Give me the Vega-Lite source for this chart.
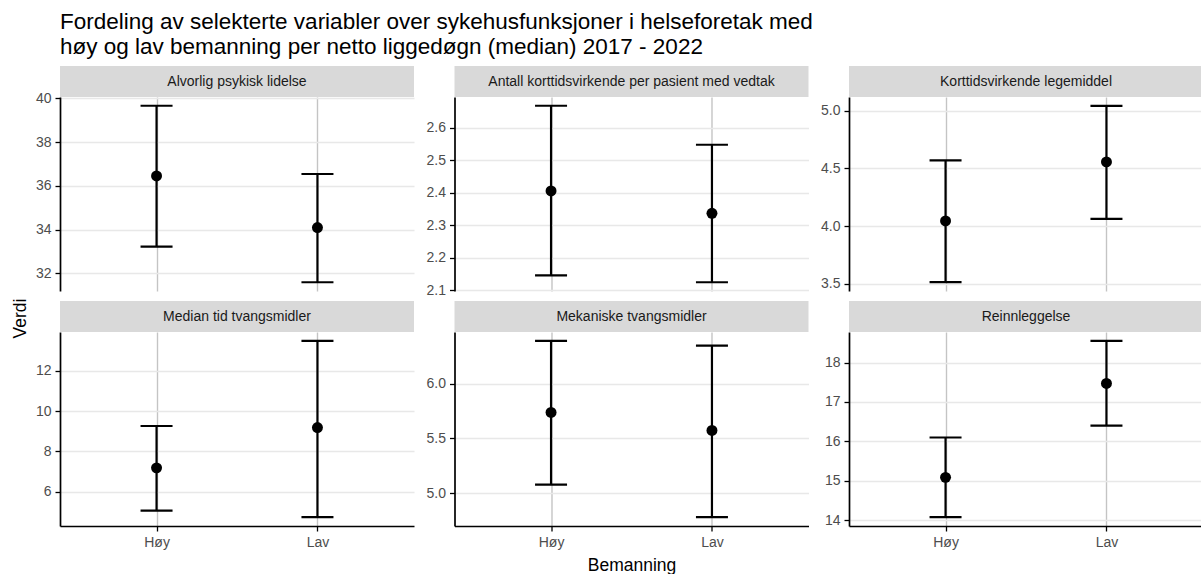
{
  "$schema": "https://vega.github.io/schema/vega-lite/v6.json",
  "padding": {"left": 11, "top": 10, "right": 0, "bottom": 0},
  "title": {
    "text": ["Fordeling av selekterte variabler over sykehusfunksjoner i helseforetak med", "høy og lav bemanning per netto liggedøgn (median) 2017 - 2022"],
    "anchor": "start", "fontSize": 22.5, "lineHeight": 25, "fontWeight": "normal", "color": "#000000", "font": "Liberation Sans", "offset": 8, "frame": "group"
  },
  "datasets": {
    "d": [
      {"variabel": "Alvorlig psykisk lidelse", "Bemanning": "Høy", "Verdi": 36.45, "nedre": 33.22, "ovre": 39.66},
      {"variabel": "Alvorlig psykisk lidelse", "Bemanning": "Lav", "Verdi": 34.09, "nedre": 31.59, "ovre": 36.54},
      {"variabel": "Antall korttidsvirkende per pasient med vedtak", "Bemanning": "Høy", "Verdi": 2.405, "nedre": 2.145, "ovre": 2.667},
      {"variabel": "Antall korttidsvirkende per pasient med vedtak", "Bemanning": "Lav", "Verdi": 2.336, "nedre": 2.124, "ovre": 2.547},
      {"variabel": "Korttidsvirkende legemiddel", "Bemanning": "Høy", "Verdi": 4.046, "nedre": 3.515, "ovre": 4.57},
      {"variabel": "Korttidsvirkende legemiddel", "Bemanning": "Lav", "Verdi": 4.557, "nedre": 4.063, "ovre": 5.043},
      {"variabel": "Median tid tvangsmidler", "Bemanning": "Høy", "Verdi": 7.18, "nedre": 5.06, "ovre": 9.26},
      {"variabel": "Median tid tvangsmidler", "Bemanning": "Lav", "Verdi": 9.18, "nedre": 4.73, "ovre": 13.49},
      {"variabel": "Mekaniske tvangsmidler", "Bemanning": "Høy", "Verdi": 5.738, "nedre": 5.079, "ovre": 6.392},
      {"variabel": "Mekaniske tvangsmidler", "Bemanning": "Lav", "Verdi": 5.573, "nedre": 4.781, "ovre": 6.349},
      {"variabel": "Reinnleggelse", "Bemanning": "Høy", "Verdi": 15.09, "nedre": 14.08, "ovre": 16.1},
      {"variabel": "Reinnleggelse", "Bemanning": "Lav", "Verdi": 17.47, "nedre": 16.4, "ovre": 18.55}
    ]
  },
  "columns": 3,
  "spacing": {"row": 0, "column": 11.5},
  "align": "each",
  "resolve": {"scale": {"x": "independent", "y": "independent"}},
  "concat": [
    {
      "spacing": 0, "bounds": "flush",
      "vconcat": [
        {"width": 354, "height": 31, "view": {"fill": "#d9d9d9", "stroke": null}, "data": {"name": "d"},
         "transform": [{"filter": "datum.variabel === 'Alvorlig psykisk lidelse' && datum.Bemanning === 'Høy'"}],
         "mark": {"type": "text", "fontSize": 14, "color": "#1a1a1a", "align": "center", "baseline": "middle"},
         "encoding": {"text": {"field": "variabel"}}},
        {"width": 354, "height": 194, "data": {"name": "d"},
         "transform": [{"filter": "datum.variabel === 'Alvorlig psykisk lidelse'"}],
         "encoding": {"x": {"field": "Bemanning", "type": "nominal", "sort": ["Høy", "Lav"], "scale": {"type": "point", "padding": 0.6}, "axis": {"labels": false, "ticks": false, "domain": false, "title": null, "grid": true}}},
         "layer": [
           {"mark": {"type": "rule", "strokeWidth": 2.2, "color": "#000000"},
            "encoding": {"y": {"field": "nedre", "type": "quantitative", "scale": {"domain": [31.19, 40.06], "zero": false, "nice": false}, "axis": {"title": null, "values": [32, 34, 36, 38, 40], "format": "d"}}, "y2": {"field": "ovre"}}},
           {"mark": {"type": "tick", "size": 32, "thickness": 2.2, "color": "#000000", "opacity": 1},
            "encoding": {"y": {"field": "nedre", "type": "quantitative", "scale": {"domain": [31.19, 40.06], "zero": false, "nice": false}, "axis": {"title": null, "values": [32, 34, 36, 38, 40], "format": "d"}}}},
           {"mark": {"type": "tick", "size": 32, "thickness": 2.2, "color": "#000000", "opacity": 1},
            "encoding": {"y": {"field": "ovre", "type": "quantitative", "scale": {"domain": [31.19, 40.06], "zero": false, "nice": false}, "axis": {"title": null, "values": [32, 34, 36, 38, 40], "format": "d"}}}},
           {"mark": {"type": "point", "filled": true, "size": 120, "color": "#000000", "opacity": 1},
            "encoding": {"y": {"field": "Verdi", "type": "quantitative", "scale": {"domain": [31.19, 40.06], "zero": false, "nice": false}, "axis": {"title": null, "values": [32, 34, 36, 38, 40], "format": "d"}}}}
         ]}
      ]
    },
    {
      "spacing": 0, "bounds": "flush",
      "vconcat": [
        {"width": 354, "height": 31, "view": {"fill": "#d9d9d9", "stroke": null}, "data": {"name": "d"},
         "transform": [{"filter": "datum.variabel === 'Antall korttidsvirkende per pasient med vedtak' && datum.Bemanning === 'Høy'"}],
         "mark": {"type": "text", "fontSize": 14, "color": "#1a1a1a", "align": "center", "baseline": "middle"},
         "encoding": {"text": {"field": "variabel"}}},
        {"width": 354, "height": 194, "data": {"name": "d"},
         "transform": [{"filter": "datum.variabel === 'Antall korttidsvirkende per pasient med vedtak'"}],
         "encoding": {"x": {"field": "Bemanning", "type": "nominal", "sort": ["Høy", "Lav"], "scale": {"type": "point", "padding": 0.6}, "axis": {"labels": false, "ticks": false, "domain": false, "title": null, "grid": true}}},
         "layer": [
           {"mark": {"type": "rule", "strokeWidth": 2.2, "color": "#000000"},
            "encoding": {"y": {"field": "nedre", "type": "quantitative", "scale": {"domain": [2.097, 2.694], "zero": false, "nice": false}, "axis": {"title": null, "values": [2.1, 2.2, 2.3, 2.4, 2.5, 2.6], "tickCount": 6, "format": ".1f"}}, "y2": {"field": "ovre"}}},
           {"mark": {"type": "tick", "size": 32, "thickness": 2.2, "color": "#000000", "opacity": 1},
            "encoding": {"y": {"field": "nedre", "type": "quantitative", "scale": {"domain": [2.097, 2.694], "zero": false, "nice": false}, "axis": {"title": null, "values": [2.1, 2.2, 2.3, 2.4, 2.5, 2.6], "tickCount": 6, "format": ".1f"}}}},
           {"mark": {"type": "tick", "size": 32, "thickness": 2.2, "color": "#000000", "opacity": 1},
            "encoding": {"y": {"field": "ovre", "type": "quantitative", "scale": {"domain": [2.097, 2.694], "zero": false, "nice": false}, "axis": {"title": null, "values": [2.1, 2.2, 2.3, 2.4, 2.5, 2.6], "tickCount": 6, "format": ".1f"}}}},
           {"mark": {"type": "point", "filled": true, "size": 120, "color": "#000000", "opacity": 1},
            "encoding": {"y": {"field": "Verdi", "type": "quantitative", "scale": {"domain": [2.097, 2.694], "zero": false, "nice": false}, "axis": {"title": null, "values": [2.1, 2.2, 2.3, 2.4, 2.5, 2.6], "tickCount": 6, "format": ".1f"}}}}
         ]}
      ]
    },
    {
      "spacing": 0, "bounds": "flush",
      "vconcat": [
        {"width": 354, "height": 31, "view": {"fill": "#d9d9d9", "stroke": null}, "data": {"name": "d"},
         "transform": [{"filter": "datum.variabel === 'Korttidsvirkende legemiddel' && datum.Bemanning === 'Høy'"}],
         "mark": {"type": "text", "fontSize": 14, "color": "#1a1a1a", "align": "center", "baseline": "middle"},
         "encoding": {"text": {"field": "variabel"}}},
        {"width": 354, "height": 194, "data": {"name": "d"},
         "transform": [{"filter": "datum.variabel === 'Korttidsvirkende legemiddel'"}],
         "encoding": {"x": {"field": "Bemanning", "type": "nominal", "sort": ["Høy", "Lav"], "scale": {"type": "point", "padding": 0.6}, "axis": {"labels": false, "ticks": false, "domain": false, "title": null, "grid": true}}},
         "layer": [
           {"mark": {"type": "rule", "strokeWidth": 2.2, "color": "#000000"},
            "encoding": {"y": {"field": "nedre", "type": "quantitative", "scale": {"domain": [3.439, 5.119], "zero": false, "nice": false}, "axis": {"title": null, "values": [3.5, 4.0, 4.5, 5.0], "format": ".1f"}}, "y2": {"field": "ovre"}}},
           {"mark": {"type": "tick", "size": 32, "thickness": 2.2, "color": "#000000", "opacity": 1},
            "encoding": {"y": {"field": "nedre", "type": "quantitative", "scale": {"domain": [3.439, 5.119], "zero": false, "nice": false}, "axis": {"title": null, "values": [3.5, 4.0, 4.5, 5.0], "format": ".1f"}}}},
           {"mark": {"type": "tick", "size": 32, "thickness": 2.2, "color": "#000000", "opacity": 1},
            "encoding": {"y": {"field": "ovre", "type": "quantitative", "scale": {"domain": [3.439, 5.119], "zero": false, "nice": false}, "axis": {"title": null, "values": [3.5, 4.0, 4.5, 5.0], "format": ".1f"}}}},
           {"mark": {"type": "point", "filled": true, "size": 120, "color": "#000000", "opacity": 1},
            "encoding": {"y": {"field": "Verdi", "type": "quantitative", "scale": {"domain": [3.439, 5.119], "zero": false, "nice": false}, "axis": {"title": null, "values": [3.5, 4.0, 4.5, 5.0], "format": ".1f"}}}}
         ]}
      ]
    },
    {
      "spacing": 0, "bounds": "flush",
      "vconcat": [
        {"width": 354, "height": 31, "view": {"fill": "#d9d9d9", "stroke": null}, "data": {"name": "d"},
         "transform": [{"filter": "datum.variabel === 'Median tid tvangsmidler' && datum.Bemanning === 'Høy'"}],
         "mark": {"type": "text", "fontSize": 14, "color": "#1a1a1a", "align": "center", "baseline": "middle"},
         "encoding": {"text": {"field": "variabel"}}},
        {"width": 354, "height": 194, "data": {"name": "d"},
         "transform": [{"filter": "datum.variabel === 'Median tid tvangsmidler'"}],
         "encoding": {"x": {"field": "Bemanning", "type": "nominal", "sort": ["Høy", "Lav"], "scale": {"type": "point", "padding": 0.6}, "axis": {"title": null, "grid": true}}},
         "layer": [
           {"mark": {"type": "rule", "strokeWidth": 2.2, "color": "#000000"},
            "encoding": {"y": {"field": "nedre", "type": "quantitative", "scale": {"domain": [4.292, 13.928], "zero": false, "nice": false}, "axis": {"title": "Verdi", "titleX": -40, "titleY": -14, "titleAngle": 270, "titleAlign": "center", "titleBaseline": "middle", "values": [6, 8, 10, 12], "format": "d"}}, "y2": {"field": "ovre"}}},
           {"mark": {"type": "tick", "size": 32, "thickness": 2.2, "color": "#000000", "opacity": 1},
            "encoding": {"y": {"field": "nedre", "type": "quantitative", "scale": {"domain": [4.292, 13.928], "zero": false, "nice": false}, "axis": {"title": "Verdi", "titleX": -40, "titleY": -14, "titleAngle": 270, "titleAlign": "center", "titleBaseline": "middle", "values": [6, 8, 10, 12], "format": "d"}}}},
           {"mark": {"type": "tick", "size": 32, "thickness": 2.2, "color": "#000000", "opacity": 1},
            "encoding": {"y": {"field": "ovre", "type": "quantitative", "scale": {"domain": [4.292, 13.928], "zero": false, "nice": false}, "axis": {"title": "Verdi", "titleX": -40, "titleY": -14, "titleAngle": 270, "titleAlign": "center", "titleBaseline": "middle", "values": [6, 8, 10, 12], "format": "d"}}}},
           {"mark": {"type": "point", "filled": true, "size": 120, "color": "#000000", "opacity": 1},
            "encoding": {"y": {"field": "Verdi", "type": "quantitative", "scale": {"domain": [4.292, 13.928], "zero": false, "nice": false}, "axis": {"title": "Verdi", "titleX": -40, "titleY": -14, "titleAngle": 270, "titleAlign": "center", "titleBaseline": "middle", "values": [6, 8, 10, 12], "format": "d"}}}}
         ]}
      ]
    },
    {
      "spacing": 0, "bounds": "flush",
      "vconcat": [
        {"width": 354, "height": 31, "view": {"fill": "#d9d9d9", "stroke": null}, "data": {"name": "d"},
         "transform": [{"filter": "datum.variabel === 'Mekaniske tvangsmidler' && datum.Bemanning === 'Høy'"}],
         "mark": {"type": "text", "fontSize": 14, "color": "#1a1a1a", "align": "center", "baseline": "middle"},
         "encoding": {"text": {"field": "variabel"}}},
        {"width": 354, "height": 194, "data": {"name": "d"},
         "transform": [{"filter": "datum.variabel === 'Mekaniske tvangsmidler'"}],
         "encoding": {"x": {"field": "Bemanning", "type": "nominal", "sort": ["Høy", "Lav"], "scale": {"type": "point", "padding": 0.6}, "axis": {"title": "Bemanning", "titlePadding": 7, "grid": true}}},
         "layer": [
           {"mark": {"type": "rule", "strokeWidth": 2.2, "color": "#000000"},
            "encoding": {"y": {"field": "nedre", "type": "quantitative", "scale": {"domain": [4.70, 6.473], "zero": false, "nice": false}, "axis": {"title": null, "values": [5.0, 5.5, 6.0], "format": ".1f"}}, "y2": {"field": "ovre"}}},
           {"mark": {"type": "tick", "size": 32, "thickness": 2.2, "color": "#000000", "opacity": 1},
            "encoding": {"y": {"field": "nedre", "type": "quantitative", "scale": {"domain": [4.70, 6.473], "zero": false, "nice": false}, "axis": {"title": null, "values": [5.0, 5.5, 6.0], "format": ".1f"}}}},
           {"mark": {"type": "tick", "size": 32, "thickness": 2.2, "color": "#000000", "opacity": 1},
            "encoding": {"y": {"field": "ovre", "type": "quantitative", "scale": {"domain": [4.70, 6.473], "zero": false, "nice": false}, "axis": {"title": null, "values": [5.0, 5.5, 6.0], "format": ".1f"}}}},
           {"mark": {"type": "point", "filled": true, "size": 120, "color": "#000000", "opacity": 1},
            "encoding": {"y": {"field": "Verdi", "type": "quantitative", "scale": {"domain": [4.70, 6.473], "zero": false, "nice": false}, "axis": {"title": null, "values": [5.0, 5.5, 6.0], "format": ".1f"}}}}
         ]}
      ]
    },
    {
      "spacing": 0, "bounds": "flush",
      "vconcat": [
        {"width": 354, "height": 31, "view": {"fill": "#d9d9d9", "stroke": null}, "data": {"name": "d"},
         "transform": [{"filter": "datum.variabel === 'Reinnleggelse' && datum.Bemanning === 'Høy'"}],
         "mark": {"type": "text", "fontSize": 14, "color": "#1a1a1a", "align": "center", "baseline": "middle"},
         "encoding": {"text": {"field": "variabel"}}},
        {"width": 354, "height": 194, "data": {"name": "d"},
         "transform": [{"filter": "datum.variabel === 'Reinnleggelse'"}],
         "encoding": {"x": {"field": "Bemanning", "type": "nominal", "sort": ["Høy", "Lav"], "scale": {"type": "point", "padding": 0.6}, "axis": {"title": null, "grid": true}}},
         "layer": [
           {"mark": {"type": "rule", "strokeWidth": 2.2, "color": "#000000"},
            "encoding": {"y": {"field": "nedre", "type": "quantitative", "scale": {"domain": [13.857, 18.774], "zero": false, "nice": false}, "axis": {"title": null, "values": [14, 15, 16, 17, 18], "format": "d"}}, "y2": {"field": "ovre"}}},
           {"mark": {"type": "tick", "size": 32, "thickness": 2.2, "color": "#000000", "opacity": 1},
            "encoding": {"y": {"field": "nedre", "type": "quantitative", "scale": {"domain": [13.857, 18.774], "zero": false, "nice": false}, "axis": {"title": null, "values": [14, 15, 16, 17, 18], "format": "d"}}}},
           {"mark": {"type": "tick", "size": 32, "thickness": 2.2, "color": "#000000", "opacity": 1},
            "encoding": {"y": {"field": "ovre", "type": "quantitative", "scale": {"domain": [13.857, 18.774], "zero": false, "nice": false}, "axis": {"title": null, "values": [14, 15, 16, 17, 18], "format": "d"}}}},
           {"mark": {"type": "point", "filled": true, "size": 120, "color": "#000000", "opacity": 1},
            "encoding": {"y": {"field": "Verdi", "type": "quantitative", "scale": {"domain": [13.857, 18.774], "zero": false, "nice": false}, "axis": {"title": null, "values": [14, 15, 16, 17, 18], "format": "d"}}}}
         ]}
      ]
    }
  ],
  "config": {
    "font": "Liberation Sans",
    "view": {"stroke": null},
    "axis": {
      "labelColor": "#4d4d4d", "labelFontSize": 14, "labelFont": "Liberation Sans", "labelPadding": 4, "labelOverlap": false,
      "tickColor": "#000000", "tickSize": 5, "tickWidth": 1.3,
      "domainColor": "#000000", "domainWidth": 1.7,
      "titleFont": "Liberation Sans", "titleFontSize": 17.5, "titleFontWeight": "normal", "titleColor": "#000000"
    },
    "axisX": {"gridColor": "#c4c4c4", "gridWidth": 1.4, "labelAngle": 0},
    "axisY": {"gridColor": "#e8e8e8", "gridWidth": 1.5}
  }
}
